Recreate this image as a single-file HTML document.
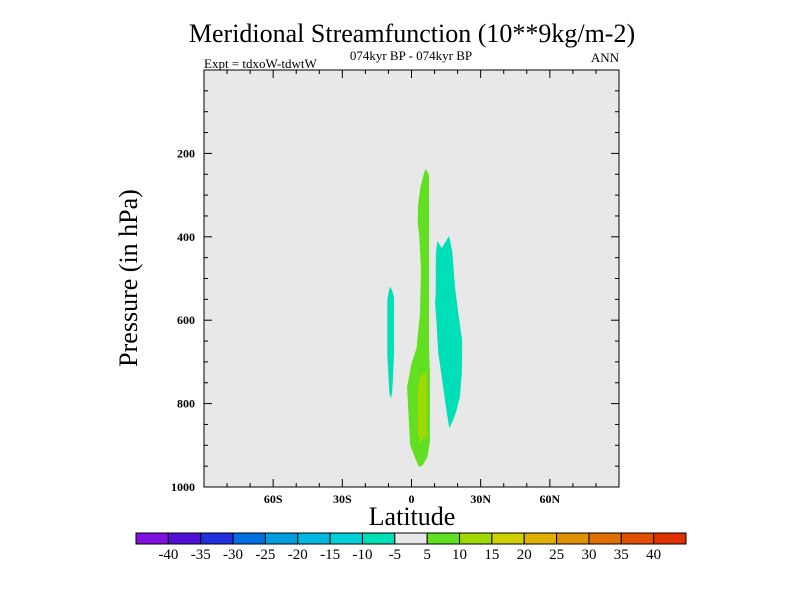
<!DOCTYPE html>
<html><head><meta charset="utf-8"><style>
html,body{margin:0;padding:0;background:#fff;}
svg text{font-family:"Liberation Serif",serif;}
</style></head><body>
<svg id="chart" width="800" height="600" xmlns="http://www.w3.org/2000/svg">
<text x="412" y="42" font-size="26" text-anchor="middle">Meridional Streamfunction (10**9kg/m-2)</text>
<text x="411" y="60" font-size="13" text-anchor="middle">074kyr BP - 074kyr BP</text>
<text x="204" y="68" font-size="13">Expt = tdxoW-tdwtW</text>
<text x="619" y="62" font-size="13" text-anchor="end">ANN</text>
<rect x="204" y="70" width="415" height="417" fill="#e8e8e8"/>
<g id="contours"></g>
<rect x="204" y="70" width="415" height="417" fill="none" stroke="#000" stroke-width="1"/>
<g id="axes"></g>
<text transform="translate(137,278) rotate(-90)" font-size="26" text-anchor="middle">Pressure (in hPa)</text>
<text x="412" y="525" font-size="26" text-anchor="middle">Latitude</text>
<g id="colorbar"></g>
</svg>
<script>
const xTicks=[-60,-30,0,30,60];
const xTickLabels=["60S","30S","0","30N","60N"];
const yTicks=[200,400,600,800,1000];
const yTickLabels=["200","400","600","800","1000"];
const cbLevels=[-40,-35,-30,-25,-20,-15,-10,-5,5,10,15,20,25,30,35,40];
const cbColors=["#8010e0","#5010d8","#2030e0","#0070e0","#00a0e0","#00b8e0","#00d0d8","#00e0b8","#e8e8e8","#60e020","#a0d800","#d0d000","#e0b000","#e09000","#e07000","#e05000","#e03000"];
// contour polygons: [lat, pressure]
const contourLevelIdx=[9,10,7,7];
const greenOuter=[[6.1,237],[7.6,252],[7.6,388],[7.6,667],[8.0,727],[8.0,892],[6.9,928],[5.0,947],[3.3,952],[1.5,930],[-0.6,899],[-1.9,760],[0,703],[2.2,667],[3.7,583],[4.1,480],[3.4,400],[2.7,364],[2.9,320],[3.9,280],[5.2,252]];
const yellowInner=[[3.7,736],[6.1,724],[6.6,727],[6.6,880],[5.2,884],[3.7,895],[2.9,872],[2.7,767]];
const cyanRight=[[11.2,410],[13.1,427],[16.3,398],[17.7,436],[18.9,523],[20.3,583],[21.5,631],[22,650],[21.8,727],[21.0,783],[19.6,815],[18.1,839],[16.4,859],[15.3,822],[14.1,775],[12.7,720],[11.6,679],[10.9,607],[10.2,556],[10.5,540],[10.6,439]];
const cyanLeft=[[-9.3,520],[-8.4,528],[-7.6,544],[-7.6,679],[-8.0,731],[-8.4,775],[-8.9,787],[-9.6,775],[-10.0,731],[-10.5,683],[-10.5,552],[-9.9,532]];
const contourPolys=[greenOuter,yellowInner,cyanRight,cyanLeft];
const contourNames=["contour-5-to-10","contour-10-to-15","contour-minus10-to-minus5-north","contour-minus10-to-minus5-south"];

const NS="http://www.w3.org/2000/svg";
const X0=204,X1=619,Y0=70,Y1=487;
const xs=lat=>X0+(lat+90)/180*(X1-X0);
const ys=p=>Y0+p/1000*(Y1-Y0);
function mk(tag,attrs,parent){const e=document.createElementNS(NS,tag);for(const k in attrs)e.setAttribute(k,attrs[k]);parent.appendChild(e);return e;}

const cg=document.getElementById('contours');
contourPolys.forEach((poly,i)=>{
  const pts=poly.map(d=>xs(d[0]).toFixed(1)+","+ys(d[1]).toFixed(1)).join(" ");
  const e=mk('polygon',{points:pts,fill:cbColors[contourLevelIdx[i]]},cg);
  
  
});

const ag=document.getElementById('axes');
// x ticks major/minor
for(let lat=-80;lat<=80;lat+=10){
  const x=xs(lat);const major=lat%30===0;const L=major?8:4;
  let t=mk('line',{x1:x,x2:x,y1:Y1,y2:Y1-L,stroke:"#000"},ag);
  
  
  t=mk('line',{x1:x,x2:x,y1:Y0,y2:Y0+L,stroke:"#000"},ag);
  
  
}
xTicks.forEach((v,i)=>{
  const t=mk('text',{x:xs(v),y:503,'font-size':12,'font-weight':'bold','text-anchor':'middle'},ag);
  t.textContent=xTickLabels[i];
  
  
});
for(let p=50;p<1000;p+=50){
  const y=ys(p);const major=p%200===0;const L=major?8:4;
  let t=mk('line',{x1:X0,x2:X0+L,y1:y,y2:y,stroke:"#000"},ag);
  
  
  t=mk('line',{x1:X1,x2:X1-L,y1:y,y2:y,stroke:"#000"},ag);
  
  
}
yTicks.forEach((v,i)=>{
  const t=mk('text',{x:195,y:ys(v)+4,'font-size':12,'font-weight':'bold','text-anchor':'end'},ag);
  t.textContent=yTickLabels[i];
  
  
});

const cb=document.getElementById('colorbar');
const CB0=136,CB1=686,CBY=533,CBH=11;const bw=(CB1-CB0)/cbColors.length;
cbColors.forEach((c,i)=>{
  const r=mk('rect',{x:CB0+i*bw,y:CBY,width:bw,height:CBH,fill:c,stroke:"#000",'stroke-width':1},cb);
  
  
});
cbLevels.forEach((v,i)=>{
  const t=mk('text',{x:CB0+(i+1)*bw,y:559,'font-size':15,'text-anchor':'middle'},cb);
  t.textContent=String(v);
  
  
});
</script>
</body></html>
